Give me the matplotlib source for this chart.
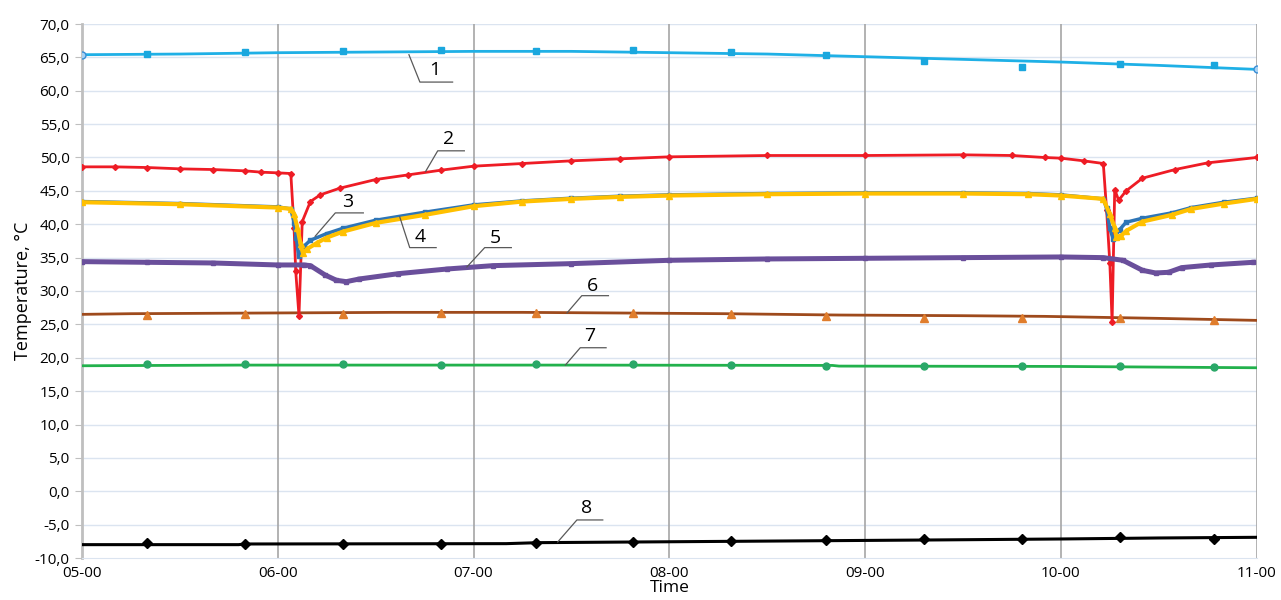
import numpy as np
import matplotlib.pyplot as plt

# time in minutes after 05-00
t1 = [0, 30, 60, 90, 120, 150, 180, 210, 240, 270, 300, 330, 360]
s1 = [65.4, 65.5, 65.7, 65.8, 65.9, 65.9, 65.7, 65.5, 65.1, 64.7, 64.3, 63.8, 63.2]

tm = [20, 50, 80, 110, 139, 169, 199, 228, 258, 288, 318, 347]   # manual readings
m1 = [65.5, 65.8, 66.0, 66.1, 66.0, 66.1, 65.8, 65.4, 64.5, 63.6, 64.0, 63.9]
m6 = [26.4, 26.5, 26.6, 26.7, 26.7, 26.7, 26.5, 26.3, 26.0, 26.0, 25.9, 25.7]
m7 = [19.1, 19.0, 19.0, 18.9, 19.1, 19.1, 18.95, 18.8, 18.8, 18.8, 18.7, 18.6]
m8 = [-7.7, -7.9, -7.95, -7.9, -7.75, -7.65, -7.4, -7.3, -7.2, -7.2, -6.9, -7.1]

t2 = [0, 10, 20, 30, 40, 50, 55, 60, 64, 65, 65.5, 66.5, 67.5, 70, 73, 79, 90, 100, 110,
      120, 135, 150, 165, 180, 210, 240, 270, 285, 295, 300, 307, 313, 314, 315, 315.7,
      316.5, 317.7, 320, 325, 335, 345, 360]
s2 = [48.6, 48.6, 48.5, 48.3, 48.2, 48.0, 47.8, 47.7, 47.6, 39.4, 33.0, 26.3, 40.4, 43.4,
      44.4, 45.4, 46.7, 47.4, 48.1, 48.7, 49.1, 49.5, 49.8, 50.1, 50.3, 50.3, 50.4, 50.3,
      50.0, 49.9, 49.5, 49.1, 42.2, 34.2, 25.4, 45.2, 43.6, 45.0, 46.9, 48.2, 49.2, 50.0]

t3 = [0, 30, 60, 64, 65, 65.7, 66.4, 68, 70, 75, 80, 90, 105, 120, 135, 150, 165, 180,
      210, 240, 270, 290, 300, 313, 314, 315, 316, 318, 320, 325, 334, 340, 350, 360]
s3 = [43.4, 43.1, 42.6, 42.3, 40.2, 37.9, 35.2, 36.7, 37.6, 38.6, 39.4, 40.6, 41.8, 42.9,
      43.5, 43.9, 44.2, 44.4, 44.6, 44.7, 44.7, 44.6, 44.4, 43.8, 42.4, 39.4, 37.8, 39.2,
      40.3, 40.9, 41.7, 42.5, 43.3, 43.9]

t4 = [0, 30, 60, 64, 65, 66, 67, 67.7, 69, 72, 75, 80, 90, 105, 120, 135, 150, 165, 180,
      210, 240, 270, 290, 300, 313, 315, 316.5, 317, 318.5, 320, 325, 334, 340, 350, 360]
s4 = [43.3, 43.0, 42.5, 42.3, 41.5, 39.5, 37.0, 35.7, 36.3, 37.2, 38.0, 38.9, 40.2, 41.4,
      42.7, 43.4, 43.8, 44.1, 44.3, 44.5, 44.6, 44.6, 44.5, 44.3, 43.8, 41.5, 39.5, 38.1,
      38.3, 39.0, 40.4, 41.4, 42.3, 43.1, 43.8]

t5 = [0, 20, 40, 60, 68, 70, 74.5, 78, 81, 85, 97, 112, 126, 150, 180, 210, 240, 270,
      300, 313, 319, 325, 329, 333, 337, 346, 359]
s5 = [34.4, 34.3, 34.2, 33.9, 33.9, 33.8, 32.4, 31.6, 31.4, 31.8, 32.6, 33.3, 33.8, 34.1,
      34.6, 34.8, 34.9, 35.0, 35.1, 35.0, 34.6, 33.1, 32.7, 32.8, 33.5, 33.9, 34.3]

t6 = [0, 15, 95, 135, 197, 232, 270, 295, 330, 360]
s6 = [26.5, 26.6, 26.8, 26.8, 26.6, 26.4, 26.3, 26.2, 25.9, 25.6]

t7 = [0, 48, 150, 230, 232, 300, 330, 360]
s7 = [18.8, 18.9, 18.9, 18.85, 18.75, 18.7, 18.6, 18.5]

t8 = [0, 48, 50, 130, 140, 200, 260, 300, 330, 360]
s8 = [-8.0, -8.0, -7.9, -7.85, -7.7, -7.5, -7.3, -7.15, -7.0, -6.9]

hour_labels = ['05-00', '06-00', '07-00', '08-00', '09-00', '10-00', '11-00']


def h(t):
    return 5 + np.array(t) / 60.0


fig = plt.figure(figsize=(12.81, 6), dpi=100)
ax = fig.add_axes([0.064, 0.07, 0.917, 0.89])

ax.plot(h(t1), s1, color='#1fb0e6', lw=2, zorder=3)
ax.plot(h([0, 360]), [s1[0], s1[-1]], 'o', ms=5, mfc='#a9d2f2', mec='#3a8fd6', zorder=4)
ax.plot(h(tm), m1, 's', ms=5, color='#1aa7de', zorder=4)

ax.plot(h(t2), s2, color='#ee1c25', lw=2, marker='D', ms=3, zorder=4)
ax.plot(h(t3), s3, color='#2e75b6', lw=2.5, marker='s', ms=3.5, zorder=5)
ax.plot(h(t4), s4, color='#ffc000', lw=3, marker='^', ms=4, zorder=5)
ax.plot(h(t5), s5, color='#6a4f9b', lw=3.6, marker='s', ms=3, zorder=4)

ax.plot(h(t6), s6, color='#9e4a1c', lw=2, zorder=3)
ax.plot(h(tm), m6, '^', ms=6, color='#e07d2c', zorder=4)
ax.plot(h(t7), s7, color='#22b14c', lw=2, zorder=3)
ax.plot(h(tm), m7, 'o', ms=5, color='#2aa868', zorder=4)
ax.plot(h(t8), s8, color='black', lw=2.2, zorder=3)
ax.plot(h(tm), m8, 'D', ms=5, color='black', zorder=4)

# number labels with leader lines: text, text pos, point on curve, elbow x, end x, elbow y
notes = [
    ('1', 6.802, 63.1, 6.670, 65.4, 6.726, 6.893, 61.3),
    ('2', 6.873, 52.8, 6.755, 47.9, 6.817, 6.953, 51.0),
    ('3', 6.355, 43.4, 6.191, 38.2, 6.294, 6.437, 41.7),
    ('4', 6.729, 38.1, 6.623, 41.1, 6.674, 6.809, 36.5),
    ('5', 7.113, 37.9, 6.966, 33.6, 7.057, 7.193, 36.5),
    ('6', 7.609, 30.8, 7.477, 26.7, 7.553, 7.689, 29.3),
    ('7', 7.595, 23.2, 7.469, 18.9, 7.545, 7.677, 21.5),
    ('8', 7.579, -2.5, 7.430, -7.6, 7.528, 7.660, -4.3),
]
for lab, tx, ty, px, py, ex, hx, ey in notes:
    ax.plot([px, ex, hx], [py, ey, ey], color='#595959', lw=0.9, zorder=6)
    ax.text(tx, ty, lab, fontsize=14, ha='center', va='center', family='Open Sans', zorder=6)

ax.set_xlim(5, 11)
ax.set_ylim(-10, 70)
ax.set_xticks(range(5, 12))
ax.set_xticklabels(hour_labels, family='Open Sans', fontsize=11)
yt = np.arange(-10, 71, 5)
ax.set_yticks(yt)
ax.set_yticklabels([('%.1f' % v).replace('.', ',') for v in yt], family='Open Sans', fontsize=11)
ax.tick_params(axis='x', length=0, pad=6)
ax.tick_params(axis='y', length=5, color='#bfbfbf', pad=4)

for v in yt[1:]:
    ax.axhline(v, color='#dbe4f0', lw=1, zorder=1)
for x in range(6, 12):
    ax.axvline(x, color='#a6a6a6', lw=1.2, zorder=1)

for s in ['top', 'right']:
    ax.spines[s].set_visible(False)
ax.spines['left'].set_color('#bfbfbf')
ax.spines['left'].set_linewidth(2)
ax.spines['bottom'].set_color('#dbe4f0')

ax.set_xlabel('Time', family='Open Sans', fontsize=12.5, labelpad=-1)
ax.set_ylabel('Temperature, °C', family='Open Sans', fontsize=13, labelpad=2)

fig.savefig('out.png', dpi=100)
